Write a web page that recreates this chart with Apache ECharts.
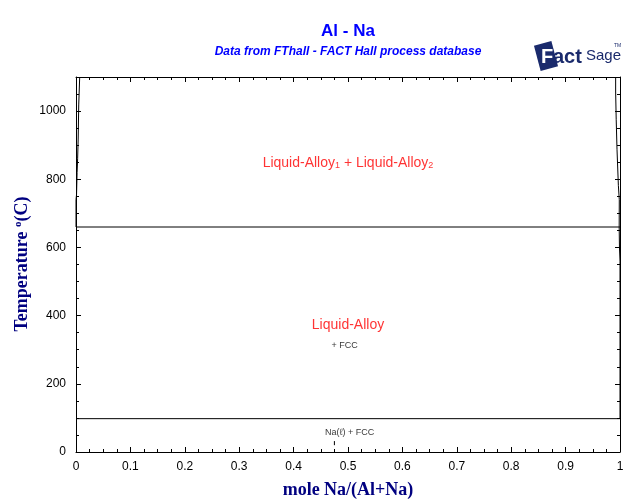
<!DOCTYPE html>
<html><head><meta charset="utf-8">
<script src="https://cdn.jsdelivr.net/npm/echarts@6/dist/echarts.min.js"></script>
<style>html,body{margin:0;padding:0;background:#fff}#c{width:640px;height:504px}</style>
</head><body><div id="c"></div>
<script>
// ---- data ----
const xTicks = [0,0.1,0.2,0.3,0.4,0.5,0.6,0.7,0.8,0.9,1];
const yTicks = [0,200,400,600,800,1000];
const invariantAl = [[0,660],[1,660]];
const invariantNa = [[0,97.8],[1,97.8]];
const liquidusAlRich = [[0,660],[0,740],[0.001,755],[0.002,820],[0.003,860],[0.004,918],[0.005,1018],[0.0068,1100]];
const liquidusNaRich = [[1,97.8],[1,560],[0.999,600],[0.9985,660],[0.9987,740],[0.997,782],[0.9945,888],[0.993,976],[0.992,1056],[0.992,1100]];
const markerTick = [[0.475,20],[0.475,32]];
const regionLabels = [
  {x:0.5, y:848, text:'{r|Liquid-Alloy}{rs|1}{r| + Liquid-Alloy}{rs|2}'},
  {x:0.5, y:372, text:'{r|Liquid-Alloy}'},
  {x:0.494, y:311, text:'{k|+ FCC}'},
  {x:0.503, y:56, text:'{k|Na(ℓ) + FCC}'}
];

const chart = echarts.init(document.getElementById('c'));
const lineStyle = {color:'#000', width:1};
function lineSeries(d){
  return {type:'line', data:d, showSymbol:false, symbol:'none', lineStyle:lineStyle, silent:true, animation:false};
}
const axCommon = {
  axisLine:{show:true, onZero:false, lineStyle:{color:'#000', width:1}},
  axisTick:{show:true, inside:true, length:5, lineStyle:{color:'#000'}},
  minorTick:{show:true, splitNumber:4, length:3, lineStyle:{color:'#000'}},
  splitLine:{show:false}
};
chart.setOption({
  animation:false,
  backgroundColor:'#fff',
  grid:{left:76, top:77, width:544, height:375, containLabel:false},
  xAxis:[
    Object.assign({type:'value', min:0, max:1, interval:0.1, position:'bottom',
      axisLabel:{color:'#000', fontFamily:'Liberation Sans, Arial', fontSize:12, margin:9,
        formatter:v=>{const t=xTicks.find(a=>Math.abs(a-v)<1e-9); return t===undefined?'':String(t);}}}, axCommon),
    Object.assign({type:'value', min:0, max:1, interval:0.1, position:'top', axisLabel:{show:false}}, axCommon)
  ],
  yAxis:[
    Object.assign({type:'value', min:0, max:1100, interval:200, position:'left',
      axisLabel:{color:'#000', fontFamily:'Liberation Sans, Arial', fontSize:12, margin:10,
        formatter:v=>yTicks.indexOf(v)>=0?String(v):''}}, axCommon),
    Object.assign({type:'value', min:0, max:1100, interval:200, position:'right', axisLabel:{show:false}}, axCommon)
  ],
  series:[
    lineSeries(invariantAl), lineSeries(invariantNa), lineSeries(liquidusAlRich), lineSeries(liquidusNaRich), lineSeries(markerTick),
    {type:'scatter', symbolSize:0, silent:true, animation:false,
      data:regionLabels.map(l=>({value:[l.x,l.y], label:{show:true, position:'inside', formatter:l.text}})),
      label:{show:true, rich:{
        r:{color:'#ff0000', fontSize:14, fontFamily:'Liberation Sans, Arial'},
        rs:{color:'#ff0000', fontSize:9, fontFamily:'Liberation Sans, Arial', verticalAlign:'bottom', padding:[6,0,0,0]},
        k:{color:'#000', fontSize:9, fontFamily:'Liberation Sans, Arial'}
      }}
    }
  ],
  graphic:[
    {type:'text', x:348, y:31, style:{text:'Al - Na', fill:'#0000ff', font:'bold 17px Liberation Sans, Arial', textAlign:'center', textVerticalAlign:'middle'}},
    {type:'text', x:348, y:52, style:{text:'Data from FThall - FACT Hall process database', fill:'#0000ff', font:'italic bold 12px Liberation Sans, Arial', textAlign:'center', textVerticalAlign:'middle'}},
    {type:'text', x:348, y:490, style:{text:'mole Na/(Al+Na)', fill:'#000080', font:'bold 18px Liberation Serif, Times New Roman', textAlign:'center', textVerticalAlign:'middle'}},
    {type:'text', x:22, y:264, rotation:Math.PI/2, style:{
      text:'{t|Temperature }{s|o}{t|(C)}', textAlign:'center', textVerticalAlign:'middle',
      rich:{t:{fill:'#000080', color:'#000080', font:'bold 18px Liberation Serif, Times New Roman'},
            s:{fill:'#000080', color:'#000080', font:'bold 11px Liberation Serif, Times New Roman', verticalAlign:'top', padding:[0,0,8,0]}}}},
    // logo
    {type:'rect', x:546, y:56, rotation:0.26, shape:{x:-9, y:-13, width:18, height:26}, style:{fill:'#1a2a6c'}},
    {type:'text', x:541, y:57, style:{text:'F', fill:'#ffffff', font:'bold 20px Liberation Sans, Arial', textVerticalAlign:'middle'}},
    {type:'text', x:553, y:57, style:{text:'act', fill:'#1a2a6c', font:'bold 20px Liberation Sans, Arial', textVerticalAlign:'middle'}},
    {type:'text', x:586, y:56, style:{text:'Sage', fill:'#1a2a6c', font:'15px Liberation Sans Narrow, Arial Narrow, Liberation Sans', textVerticalAlign:'middle'}},
    {type:'text', x:614, y:46, style:{text:'TM', fill:'#1a2a6c', font:'5px Liberation Sans', textVerticalAlign:'middle'}}
  ]
});
</script></body></html>
